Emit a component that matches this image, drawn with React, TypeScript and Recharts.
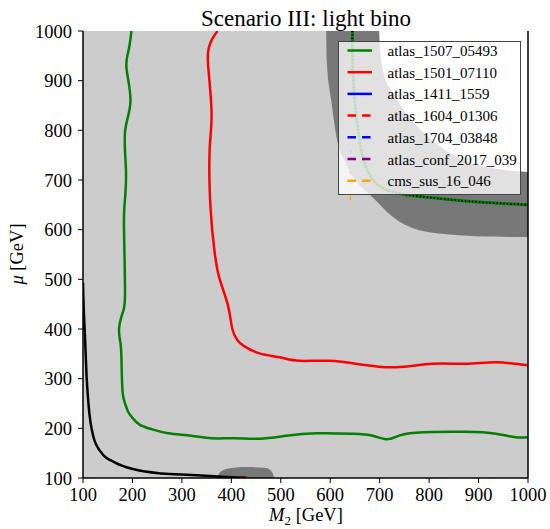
import { Area, CartesianGrid, ComposedChart, Line, XAxis, YAxis } from "recharts";

const TICKS = [100, 200, 300, 400, 500, 600, 700, 800, 900, 1000];

// [M2, mu] points
const atlas150705493Main: [number, number][] = [
	[198, 1000], [192, 960], [188, 925], [196, 858], [185, 797], [187, 717],
	[184, 650], [183, 596], [185, 475], [181, 435], [173, 401], [176, 370],
	[178, 331], [180, 274], [185, 250], [191, 234], [200, 221], [215, 207],
	[240, 198], [272, 190], [319, 185], [360, 180], [407, 180], [457, 179],
	[511, 185], [572, 190], [645, 189], [686, 185], [713, 178], [733, 183],
	[773, 191], [874, 193], [935, 189], [975, 182], [1000, 182],
];

const atlas150705493Upper: [number, number][] = [
	[645, 1000], [645, 950], [648, 880], [655, 810], [664, 755], [674, 722],
	[688, 698], [710, 682], [750, 671], [800, 665], [880, 657], [1000, 650],
];

const atlas150107110Main: [number, number][] = [
	[372, 1000], [362, 985], [355, 968], [353, 932], [360, 838], [356, 757],
	[358, 643], [366, 556], [376, 502], [393, 448], [402, 400], [412, 378],
	[425, 366], [457, 351], [498, 343], [538, 336], [598, 336], [666, 328],
	[733, 323], [807, 330], [874, 330], [935, 333], [982, 329], [1000, 327],
];

const atlas150107110Low: [number, number][] = [[418, 101], [432, 101]];

const atlas160401306: [number, number][] = [[641, 928], [641, 922]];
const atlas170403848: [number, number][] = [[641, 760], [641, 755]];
const atlasConf2017039: [number, number][] = [[641, 718], [641, 713]];
const cmsSus16046: [number, number][] = [[641, 668], [641, 660]];

const charginoLimit: [number, number][] = [
	[100, 493], [101, 455], [104, 385], [107, 310], [111, 250], [121, 183],
	[138, 150], [165, 131], [205, 117], [259, 109], [319, 106], [373, 103],
	[430, 100],
];

// [M2, mu low, mu high]
const darkRegion: [number, number, number][] = [
	[592, 1000, 1000], [593, 940, 1000], [602, 861, 1000], [615, 775, 1000],
	[629, 740, 1000], [649, 702, 1000], [665, 684, 1000], [685, 666, 1000],
	[726, 626, 1000], [780, 599, 1000], [861, 589, 1000], [930, 586, 1000],
	[1000, 585, 1000],
];

const whiteRegion: [number, number, number][] = [
	[699, 1000, 1000], [701, 960, 1000], [709, 912, 1000], [725, 878, 1000],
	[746, 845, 1000], [800, 785, 1000], [861, 744, 1000], [927, 724, 1000],
	[1000, 716, 1000],
];

const lowBlob: [number, number, number][] = [
	[372, 100, 100], [376, 100, 110], [390, 100, 118], [430, 100, 122],
	[470, 100, 120], [482, 100, 112], [487, 100, 100],
];

const LEGEND_NAMES = [
	"atlas_1507_05493",
	"atlas_1501_07110",
	"atlas_1411_1559",
	"atlas_1604_01306",
	"atlas_1704_03848",
	"atlas_conf_2017_039",
	"cms_sus_16_046",
];
const LEGEND_COLORS = ["#008000", "#ff0000", "#0000ff", "#ff0000", "#0000ff", "#800080", "#ffa500"];
const LEGEND_DASHED = [false, false, false, true, true, true, true];

const FONT = "Liberation Serif";

const pts = (p: [number, number][]) => p.map(([x, y]) => ({ x, y }));
const band = (p: [number, number, number][]) => p.map(([x, lo, hi]) => ({ x, band: [lo, hi] }));

const noTick = () => <g />;

const BottomTick = (props: any) => (
	<text x={props.x} y={props.y} dy="0.71em" textAnchor="middle" fontSize={18.5} fontFamily={FONT} fill="#000">
		{props.payload.value}
	</text>
);

const LeftTick = (props: any) => (
	<text x={props.x} y={props.y} dy="0.355em" textAnchor="end" fontSize={18.5} fontFamily={FONT} fill="#000">
		{props.payload.value}
	</text>
);

function LegendBox() {
	return (
		<div
			style={{
				position: "absolute",
				left: 338,
				top: 41,
				width: 183,
				height: 154,
				boxSizing: "border-box",
				border: "1.5px solid #444",
				background: "rgba(255,255,255,0.78)",
			}}
		>
			<svg width={180} height={151} style={{ display: "block" }}>
				{LEGEND_NAMES.map((name, i) => {
					const cy = 8.5 + i * 21.7;
					return (
						<g key={name}>
							<line
								x1={8.5}
								x2={33}
								y1={cy}
								y2={cy}
								stroke={LEGEND_COLORS[i]}
								strokeWidth={2.5}
								strokeDasharray={LEGEND_DASHED[i] ? "8.5 6" : undefined}
							/>
							<text x={48.5} y={cy + 5.5} fontSize={15} fontFamily={FONT} fill="#000">
								{name}
							</text>
						</g>
					);
				})}
			</svg>
		</div>
	);
}

export default function App() {
	return (
		<div
			style={{
				position: "absolute",
				left: 0,
				top: 0,
				width: 550,
				height: 529,
				background: "#fff",
				fontFamily: FONT,
			}}
		>
			<ComposedChart width={550} height={529} margin={{ top: 31, right: 11, bottom: 0, left: 0 }}>
				<CartesianGrid fill="#cccccc" fillOpacity={1} horizontal={false} vertical={false} />
				<XAxis
					dataKey="x"
					type="number"
					domain={[100, 1000]}
					ticks={TICKS}
					interval={0}
					allowDataOverflow
					height={51}
					tickSize={5}
					tickMargin={5}
					axisLine={{ stroke: "#000", strokeWidth: 1.5 }}
					tickLine={{ stroke: "#000" }}
					tick={BottomTick}
				/>
				<XAxis
					xAxisId="top"
					orientation="top"
					type="number"
					domain={[100, 1000]}
					ticks={TICKS}
					interval={0}
					height={0}
					tickSize={5}
					axisLine={{ stroke: "#000", strokeWidth: 1.5 }}
					tickLine={{ stroke: "#000" }}
					tick={noTick}
				/>
				<YAxis
					type="number"
					domain={[100, 1000]}
					ticks={TICKS}
					interval={0}
					allowDataOverflow
					width={83}
					tickSize={5}
					tickMargin={6}
					axisLine={{ stroke: "#000", strokeWidth: 1.5 }}
					tickLine={{ stroke: "#000" }}
					tick={LeftTick}
				/>
				<YAxis
					yAxisId="right"
					orientation="right"
					type="number"
					domain={[100, 1000]}
					ticks={TICKS}
					interval={0}
					width={11}
					tickSize={5}
					axisLine={{ stroke: "#000", strokeWidth: 1.5 }}
					tickLine={{ stroke: "#000" }}
					tick={noTick}
				/>
				<Area data={band(darkRegion)} dataKey="band" type="monotone" fill="#787878" fillOpacity={1} stroke="none" isAnimationActive={false} />
				<Area data={band(whiteRegion)} dataKey="band" type="monotone" fill="#ffffff" fillOpacity={1} stroke="none" isAnimationActive={false} />
				<Area data={band(lowBlob)} dataKey="band" type="monotone" fill="#787878" fillOpacity={1} stroke="none" isAnimationActive={false} />
				<Line data={pts(atlas150705493Upper)} dataKey="y" type="natural" stroke="#008000" strokeWidth={3} dot={false} activeDot={false} isAnimationActive={false} />
				<Line data={pts(atlas150705493Upper)} dataKey="y" type="natural" stroke="#000" strokeWidth={2} strokeDasharray="1.2 2.3" dot={false} activeDot={false} isAnimationActive={false} />
				<Line data={pts(atlas150705493Main)} dataKey="y" type="natural" stroke="#008000" strokeWidth={2.5} dot={false} activeDot={false} isAnimationActive={false} />
				<Line data={pts(atlas150107110Main)} dataKey="y" type="natural" stroke="#ff0000" strokeWidth={2.5} dot={false} activeDot={false} isAnimationActive={false} />
				<Line data={pts(atlas150107110Low)} dataKey="y" type="linear" stroke="#ff0000" strokeWidth={2.5} dot={false} activeDot={false} isAnimationActive={false} />
				<Line data={pts(atlas160401306)} dataKey="y" type="linear" stroke="#ff0000" strokeWidth={1.5} dot={false} activeDot={false} isAnimationActive={false} />
				<Line data={pts(atlas170403848)} dataKey="y" type="linear" stroke="#0000ff" strokeWidth={1.5} dot={false} activeDot={false} isAnimationActive={false} />
				<Line data={pts(atlasConf2017039)} dataKey="y" type="linear" stroke="#800080" strokeWidth={1.5} dot={false} activeDot={false} isAnimationActive={false} />
				<Line data={pts(cmsSus16046)} dataKey="y" type="linear" stroke="#ffa500" strokeWidth={1.5} dot={false} activeDot={false} isAnimationActive={false} />
				<Line data={pts(charginoLimit)} dataKey="y" type="monotone" stroke="#000" strokeWidth={2.5} dot={false} activeDot={false} isAnimationActive={false} />
			</ComposedChart>
			<svg width={550} height={529} style={{ position: "absolute", left: 0, top: 0, pointerEvents: "none" }}>
				<text x={306} y={26} textAnchor="middle" fontSize={23} fontFamily={FONT} fill="#000">
					Scenario III: light bino
				</text>
				<text x={306} y={521} textAnchor="middle" fontSize={18.5} fontFamily={FONT} fill="#000">
					<tspan fontStyle="italic">M</tspan>
					<tspan fontSize={13} dy={3.5}>2</tspan>
					<tspan dy={-3.5}> [GeV]</tspan>
				</text>
				<text
					x={23}
					y={254}
					textAnchor="middle"
					fontSize={18.5}
					fontFamily={FONT}
					fill="#000"
					transform="rotate(-90 23 254)"
				>
					<tspan fontStyle="italic">μ</tspan> [GeV]
				</text>
			</svg>
			<LegendBox />
		</div>
	);
}
